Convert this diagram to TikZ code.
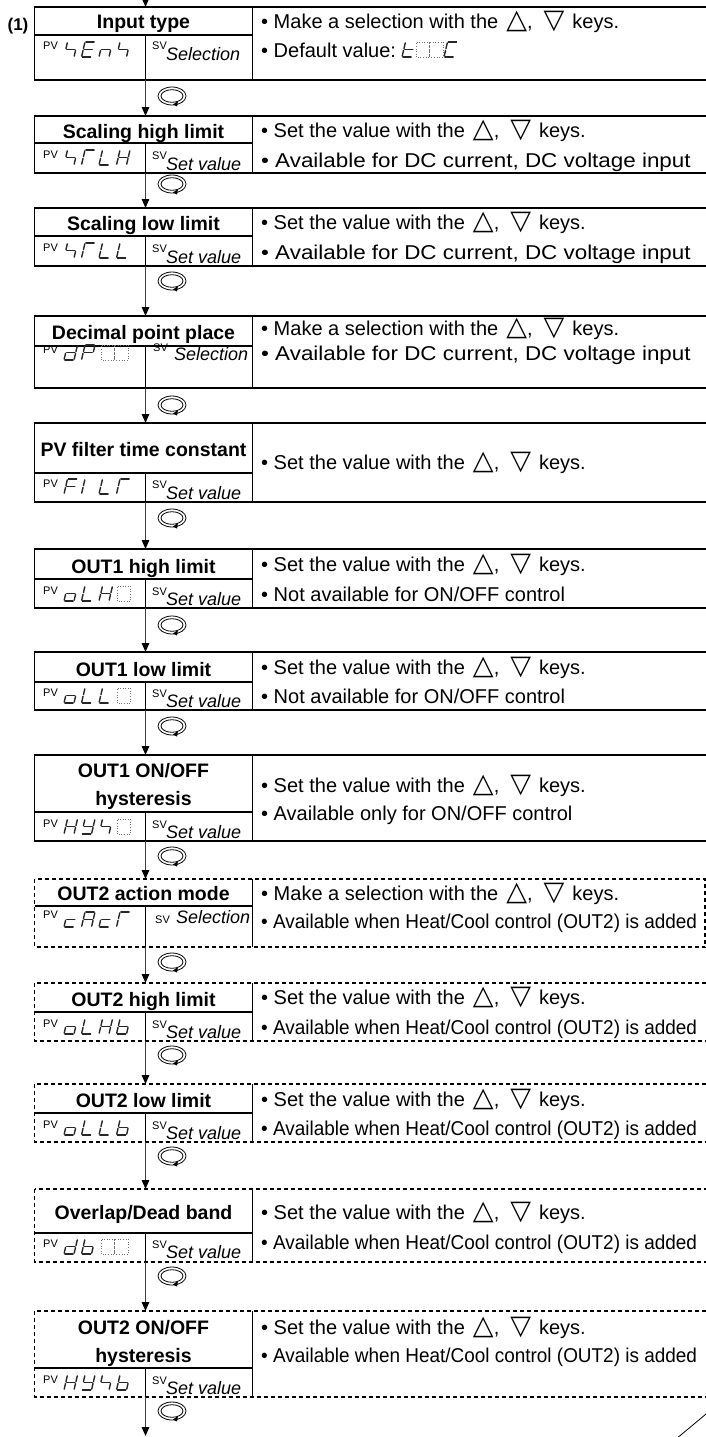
\documentclass[tikz,border=0pt]{standalone}
\usepackage{fontspec}
\usepackage{graphicx}
\setmainfont{Liberation Sans}
\newfontfamily\dejavu{DejaVu Sans}
\usetikzlibrary{arrows.meta}

\tikzset{
 solidframe/.style={line width=1.3pt, draw=black},
 dashframe/.style={line width=1.3pt, draw=black, dash pattern=on 4pt off 3pt},
 divline/.style={line width=1.3pt, draw=black},
 arr/.style={line width=1.1pt, draw=black!75, -{Triangle[length=9pt,width=7.5pt,color=black]}},
 ttl/.style={font=\fontsize{19.5}{22}\selectfont\bfseries, anchor=base, inner sep=0pt},
 rtext/.style={font=\fontsize{20}{23}\selectfont, anchor=base west, inner sep=0pt},
 lbl/.style={font=\fontsize{11}{12}\selectfont, anchor=base west, inner sep=0pt},
 svtext/.style={font=\fontsize{18}{20}\selectfont\itshape, anchor=base west, inner sep=0pt},
 seg/.style={line width=1.4pt, draw=black!85, shorten <=0.9pt, shorten >=0.9pt, line cap=round},
 blankbox/.style={draw=black!55, line width=0.6pt, dotted},
 icon/.style={line width=0.8pt, draw=black},
}

% seven segment pieces (origin = baseline left, y downwards)
\newcommand\SgA{\draw[seg] (3.5,-15) -- (13.5,-15);}
\newcommand\SgB{\draw[seg] (13.5,-15) -- (11.75,-7.5);}
\newcommand\SgC{\draw[seg] (11.75,-7.5) -- (10,0);}
\newcommand\SgD{\draw[seg] (0,0) -- (10,0);}
\newcommand\SgE{\draw[seg] (1.75,-7.5) -- (0,0);}
\newcommand\SgF{\draw[seg] (3.5,-15) -- (1.75,-7.5);}
\newcommand\SgG{\draw[seg] (1.75,-7.5) -- (11.75,-7.5);}
\newcommand\sevch[3]{\begin{scope}[shift={(#1,#2)}]#3\end{scope}}
\newcommand\DgS{\SgF\SgG\SgC}
\newcommand\DgE{\SgA\SgF\SgG\SgE\SgD}
\newcommand\Dgn{\SgG\SgE\SgC}
\newcommand\DgT{\SgA\SgF\SgE}
\newcommand\DgL{\SgF\SgE\SgD}
\newcommand\DgH{\SgB\SgC\SgE\SgF\SgG}
\newcommand\Dgd{\SgB\SgC\SgD\SgE\SgG}
\newcommand\DgP{\SgA\SgB\SgF\SgG\SgE}
\newcommand\DgF{\SgA\SgF\SgG\SgE}
\newcommand\DgI{\SgE\SgF}
\newcommand\Dgo{\SgC\SgD\SgE\SgG}
\newcommand\DgY{\SgB\SgC\SgD\SgF\SgG}
\newcommand\Dgb{\SgF\SgE\SgD\SgC\SgG}
\newcommand\Dgc{\SgG\SgE\SgD}
\newcommand\DgA{\SgA\SgB\SgC\SgE\SgF\SgG}
\newcommand\Dgt{\SgF\SgG\SgE\SgD}
\newcommand\DgC{\SgA\SgF\SgE\SgD}
\newcommand\blk[2]{\draw[blankbox] (#1,#2) rectangle ++(13.5,-15);}

\newcommand\TriUp{{\dejavu\fontsize{27}{27}\selectfont △}}
\newcommand\TriDn{{\dejavu\fontsize{27}{27}\selectfont ▽}}
\newcommand\KeysTail{the\hspace{8pt}\TriUp,\hspace{11pt}\TriDn\hspace{8pt}keys.}
\newcommand\SetKeysLine{• Set the value with \KeysTail}
\newcommand\MakeKeysLine{• Make a selection with \KeysTail}
\newcommand\DcLine{\scalebox{1.12}[1]{• Available for DC current, DC voltage input}}
\newcommand\HcLine{\scalebox{0.947}[1]{• Available when Heat/Cool control (OUT2) is added}}

\newcommand\bframe[6]{% name, top, div, bottom, style, right edge
 \draw[#5] (34.5,#2) rectangle (#6,#4);
 \draw[divline] (34.5,#3) -- (252.5,#3);
 \draw[divline] (252.5,#2) -- (252.5,#4);
 \draw[divline] (145.5,#3) -- (145.5,#4);
 \coordinate (#1t) at (145.5,#2);
 \coordinate (#1b) at (145.5,#4);
}
\newcommand\recyc[2]{%
 \draw[icon] (#1,#2) ellipse [x radius=14, y radius=9];
 \draw[icon] (#1,#2) ellipse [x radius=11, y radius=6.3];
 \fill (#1+6,#2+5) -- (#1+1,#2+8.5) -- (#1+5,#2+10.5) -- cycle;
}

\begin{document}
\begin{tikzpicture}[x=1pt,y=-1pt]
\useasboundingbox (0,0) rectangle (706,1437);
\clip (0,0) rectangle (706,1437);

\node[font=\fontsize{17}{19}\selectfont\bfseries, anchor=base, inner sep=0pt] (num) at (18,31) {(1)};
\coordinate (start) at (145.5,-12);

% ---- box 1
\bframe{b1}{7}{35}{80}{solidframe}{760}
\node[ttl] (t1) at (143.5,29) {Input type};
\node[lbl] (p1) at (43,50) {PV};
\sevch{64}{57}{\DgS}\sevch{81.5}{57}{\DgE}\sevch{99}{57}{\Dgn}\sevch{116.5}{57}{\DgS}
\node[lbl] (s1) at (152,49) {SV};
\node[svtext] (v1) at (166,60) {Selection};
\node[rtext] (r1a) at (261,29) {\MakeKeysLine};
\node[rtext] (r1b) at (261,57) {• Default value:};
\sevch{402}{57}{\Dgt}\blk{416}{57}\blk{429.5}{57}\sevch{444}{57}{\DgC}
\recyc{172}{96}

% ---- box 2
\bframe{b2}{116}{143}{173}{solidframe}{760}
\node[ttl] (t2) at (143.5,138) {Scaling high limit};
\node[lbl] (p2) at (43,158) {PV};
\sevch{64}{165}{\DgS}\sevch{81.5}{165}{\DgT}\sevch{99}{165}{\DgL}\sevch{116.5}{165}{\DgH}
\node[lbl] (s2) at (152,159) {SV};
\node[svtext] (v2) at (166,170) {Set value};
\node[rtext] (r2a) at (261,137) {\SetKeysLine};
\node[rtext] (r2b) at (261,167) {\DcLine};
\recyc{172}{184}

% ---- box 3
\bframe{b3}{208}{236}{266}{solidframe}{760}
\node[ttl] (t3) at (143.5,230) {Scaling low limit};
\node[lbl] (p3) at (43,251) {PV};
\sevch{64}{258}{\DgS}\sevch{81.5}{258}{\DgT}\sevch{99}{258}{\DgL}\sevch{116.5}{258}{\DgL}
\node[lbl] (s3) at (152,252) {SV};
\node[svtext] (v3) at (166,263) {Set value};
\node[rtext] (r3a) at (261,229) {\SetKeysLine};
\node[rtext] (r3b) at (261,259) {\DcLine};
\recyc{172}{281}

% ---- box 4
\bframe{b4}{316}{346}{388}{solidframe}{760}
\node[ttl] (t4) at (143.5,339) {Decimal point place};
\node[lbl] (p4) at (43,353) {PV};
\sevch{64}{360}{\Dgd}\sevch{81.5}{360}{\DgP}\blk{101}{360}\blk{114.5}{360}
\node[lbl] (s4) at (153,351) {SV};
\node[svtext] (v4) at (174,360) {Selection};
\node[rtext] (r4a) at (261,335) {\MakeKeysLine};
\node[rtext] (r4b) at (261,360) {\DcLine};
\recyc{172}{405}

% ---- box 5
\bframe{b5}{423}{473}{502}{solidframe}{760}
\node[ttl] (t5) at (143.5,456) {PV filter time constant};
\node[lbl] (p5) at (43,487) {PV};
\sevch{64}{494}{\DgF}\sevch{81.5}{494}{\DgI}\sevch{99}{494}{\DgL}\sevch{116.5}{494}{\DgT}
\node[lbl] (s5) at (152,488) {SV};
\node[svtext] (v5) at (166,499) {Set value};
\node[rtext] (r5a) at (261,469) {\SetKeysLine};
\recyc{172}{518}

% ---- box 6
\bframe{b6}{549}{579}{608}{solidframe}{760}
\node[ttl] (t6) at (143.5,573) {OUT1 high limit};
\node[lbl] (p6) at (43,594) {PV};
\sevch{64}{601}{\Dgo}\sevch{81.5}{601}{\DgL}\sevch{99}{601}{\DgH}\blk{117}{601}
\node[lbl] (s6) at (152,595) {SV};
\node[svtext] (v6) at (166,605) {Set value};
\node[rtext] (r6a) at (261,571) {\SetKeysLine};
\node[rtext] (r6b) at (261,601) {• Not available for ON/OFF control};
\recyc{172}{625}

% ---- box 7
\bframe{b7}{652}{682}{710}{solidframe}{760}
\node[ttl] (t7) at (143.5,676) {OUT1 low limit};
\node[lbl] (p7) at (43,696) {PV};
\sevch{64}{703}{\Dgo}\sevch{81.5}{703}{\DgL}\sevch{99}{703}{\DgL}\blk{117}{703}
\node[lbl] (s7) at (152,697) {SV};
\node[svtext] (v7) at (166,707) {Set value};
\node[rtext] (r7a) at (261,674) {\SetKeysLine};
\node[rtext] (r7b) at (261,703) {• Not available for ON/OFF control};
\recyc{172}{726}

% ---- box 8
\bframe{b8}{755}{812}{841}{solidframe}{760}
\node[ttl] (t8a) at (143.5,777) {OUT1 ON/OFF};
\node[ttl] (t8b) at (143.5,805) {hysteresis};
\node[lbl] (p8) at (43,827) {PV};
\sevch{64}{834}{\DgH}\sevch{81.5}{834}{\DgY}\sevch{99}{834}{\DgS}\blk{117}{834}
\node[lbl] (s8) at (152,828) {SV};
\node[svtext] (v8) at (166,838) {Set value};
\node[rtext] (r8a) at (261,792) {\SetKeysLine};
\node[rtext] (r8b) at (261,820) {• Available only for ON/OFF control};
\recyc{172}{856}

% ---- box 9
\bframe{b9}{879}{906}{947}{dashframe}{705}
\node[ttl] (t9) at (143.5,900) {OUT2 action mode};
\node[lbl] (p9) at (43,918) {PV};
\sevch{64}{927}{\Dgc}\sevch{81.5}{927}{\DgA}\sevch{99}{927}{\Dgc}\sevch{116.5}{927}{\DgT}
\node[lbl] (s9) at (155,923) {SV};
\node[svtext] (v9) at (176,923) {Selection};
\node[rtext] (r9a) at (261,900) {\MakeKeysLine};
\node[rtext] (r9b) at (261,928) {\HcLine};
\recyc{172}{962}

% ---- box 10
\bframe{b10}{983}{1012}{1041}{dashframe}{760}
\node[ttl] (t10) at (143.5,1006) {OUT2 high limit};
\node[lbl] (p10) at (43,1027) {PV};
\sevch{64}{1034}{\Dgo}\sevch{81.5}{1034}{\DgL}\sevch{99}{1034}{\DgH}\sevch{116.5}{1034}{\Dgb}
\node[lbl] (s10) at (152,1028) {SV};
\node[svtext] (v10) at (166,1038) {Set value};
\node[rtext] (r10a) at (261,1004) {\SetKeysLine};
\node[rtext] (r10b) at (261,1034) {\HcLine};
\recyc{172}{1055}

% ---- box 11
\bframe{b11}{1084}{1113}{1142}{dashframe}{760}
\node[ttl] (t11) at (143.5,1107) {OUT2 low limit};
\node[lbl] (p11) at (43,1128) {PV};
\sevch{64}{1135}{\Dgo}\sevch{81.5}{1135}{\DgL}\sevch{99}{1135}{\DgL}\sevch{116.5}{1135}{\Dgb}
\node[lbl] (s11) at (152,1129) {SV};
\node[svtext] (v11) at (166,1139) {Set value};
\node[rtext] (r11a) at (261,1106) {\SetKeysLine};
\node[rtext] (r11b) at (261,1135) {\HcLine};
\recyc{172}{1156}

% ---- box 12
\bframe{b12}{1189}{1233}{1262}{dashframe}{760}
\node[ttl] (t12) at (143.5,1219) {Overlap/Dead band};
\node[lbl] (p12) at (43,1247) {PV};
\sevch{64}{1254}{\Dgd}\sevch{81.5}{1254}{\Dgb}\blk{101}{1254}\blk{114.5}{1254}
\node[lbl] (s12) at (152,1248) {SV};
\node[svtext] (v12) at (166,1258) {Set value};
\node[rtext] (r12a) at (261,1219) {\SetKeysLine};
\node[rtext] (r12b) at (261,1249) {\HcLine};
\recyc{172}{1276}

% ---- box 13
\bframe{b13}{1311}{1368}{1397}{dashframe}{760}
\node[ttl] (t13a) at (143.5,1334) {OUT2 ON/OFF};
\node[ttl] (t13b) at (143.5,1362) {hysteresis};
\node[lbl] (p13) at (43,1383) {PV};
\sevch{64}{1390}{\DgH}\sevch{81.5}{1390}{\DgY}\sevch{99}{1390}{\DgS}\sevch{116.5}{1390}{\Dgb}
\node[lbl] (s13) at (152,1384) {SV};
\node[svtext] (v13) at (166,1394) {Set value};
\node[rtext] (r13a) at (261,1334) {\SetKeysLine};
\node[rtext] (r13b) at (261,1362) {\HcLine};
\recyc{172}{1411}
\coordinate (end) at (145.5,1436);

% ---- connectors
\draw[arr] (start) -- (b1t);
\draw[arr] (b1b) -- (b2t);
\draw[arr] (b2b) -- (b3t);
\draw[arr] (b3b) -- (b4t);
\draw[arr] (b4b) -- (b5t);
\draw[arr] (b5b) -- (b6t);
\draw[arr] (b6b) -- (b7t);
\draw[arr] (b7b) -- (b8t);
\draw[arr] (b8b) -- (b9t);
\draw[arr] (b9b) -- (b10t);
\draw[arr] (b10b) -- (b11t);
\draw[arr] (b11b) -- (b12t);
\draw[arr] (b12b) -- (b13t);
\draw[arr] (b13b) -- (end);

% corner stroke
\draw[line width=0.8pt] (676,1439) -- (712,1409);
\end{tikzpicture}
\end{document}
